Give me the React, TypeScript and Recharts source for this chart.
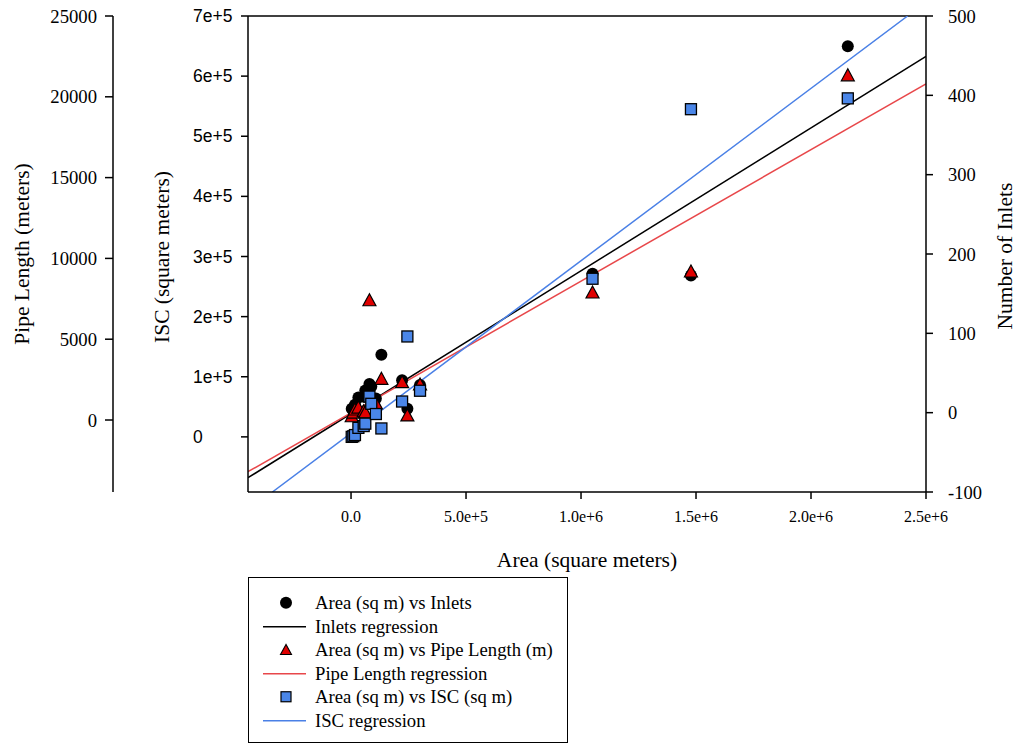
import React from 'react';
import { ComposedChart, XAxis, YAxis, Scatter, Line, ReferenceLine, Legend } from 'recharts';

// ---- data ----
const areaValues = [3000, 10000, 17000, 32000, 55000, 62000, 80000, 88000, 108000, 132000, 222000, 245000, 300000, 1050000, 1478000, 2160000];
const inletValues = [5, 3, 10, 19, 20, 28, 36, 33, 18, 73, 41, 5, 35, 175, 173, 462];
const pipeValues = [200, 430, 620, 740, 510, 450, 7380, 1440, 1000, 2520, 2310, 250, 2170, 7860, 9160, 21300];
const iscValues = [0, 1000, 3000, 15000, 18000, 22000, 67000, 55000, 38000, 14000, 58800, 167000, 76700, 263000, 545000, 563000];

// regression line end points (area, value)
const inletsRegX = [-448000, 2500000];
const inletsRegY = [-82, 449];
const pipeRegX = [-448000, 2500000];
const pipeRegY = [-3200, 20800];
const iscRegX = [-342000, 2420000];
const iscRegY = [-91700, 700000];

const xTicks = [0, 500000, 1000000, 1500000, 2000000, 2500000];
const iscTicks = [0, 100000, 200000, 300000, 400000, 500000, 600000, 700000];
const pipeTicks = [0, 5000, 10000, 15000, 20000, 25000];
const inletTicks = [-100, 0, 100, 200, 300, 400, 500];

const xDomain = [-448000, 2500000];
const iscDomain = [-91700, 700000];
const pipeDomain = [-4455, 25000];
const inletDomain = [-100, 500];

const inletsData = areaValues.map((x, i) => ({ x, y: inletValues[i] }));
const pipeData = areaValues.map((x, i) => ({ x, y: pipeValues[i] }));
const iscData = areaValues.map((x, i) => ({ x, y: iscValues[i] }));
const inletsReg = inletsRegX.map((x, i) => ({ x, y: inletsRegY[i] }));
const pipeReg = pipeRegX.map((x, i) => ({ x, y: pipeRegY[i] }));
const iscReg = iscRegX.map((x, i) => ({ x, y: iscRegY[i] }));

const SERIF = '"Liberation Serif", "Times New Roman", serif';
const SANS = '"Liberation Sans", Arial, sans-serif';
const RED = '#e00000';
const RED_LINE = '#e8474a';
const BLUE = '#4a86e8';
const BLUE_LINE = '#4a80e6';
const TITLE_SIZE = 21.5;

const fmtX = (v: number) => {
  if (v === 0) return '0.0';
  const e = Math.floor(Math.log10(v));
  return `${(v / Math.pow(10, e)).toFixed(1)}e+${e}`;
};
const fmtIsc = (v: number) => (v === 0 ? '0' : `${v / 100000}e+5`);

const Circle = (p: any) => <circle cx={p.cx} cy={p.cy} r={6} fill="#000" />;
const Tri = (p: any) => (
  <polygon
    points={`${p.cx},${p.cy - 7} ${p.cx - 6.5},${p.cy + 5} ${p.cx + 6.5},${p.cy + 5}`}
    fill={RED}
    stroke="#000"
    strokeWidth={1.2}
  />
);
const Sq = (p: any) => (
  <rect x={p.cx - 5.5} y={p.cy - 5.5} width={11} height={11} fill={BLUE} stroke="#000" strokeWidth={1.3} />
);

const IscTick = (p: any) => (
  <text x={p.x} y={p.y} dy="0.35em" textAnchor="start" fontFamily={SANS} fontSize={17.5} fill="#000">
    {fmtIsc(p.payload.value)}
  </text>
);

const legendRows = [
  { kind: 'circle', label: 'Area (sq m) vs Inlets' },
  { kind: 'line', color: '#000', label: 'Inlets regression' },
  { kind: 'tri', label: 'Area (sq m) vs Pipe Length (m)' },
  { kind: 'line', color: RED_LINE, label: 'Pipe Length regression' },
  { kind: 'sq', label: 'Area (sq m) vs ISC (sq m)' },
  { kind: 'line', color: BLUE_LINE, label: 'ISC regression' },
];

const LegendBox = () => (
  <div
    style={{
      width: 320,
      height: 166,
      boxSizing: 'border-box',
      border: '1.5px solid #000',
      paddingTop: 13,
      fontFamily: SERIF,
      fontSize: 18.7,
      color: '#000',
      background: '#fff',
    }}
  >
    {legendRows.map((r, i) => (
      <div key={i} style={{ height: 23.5, display: 'flex', alignItems: 'center' }}>
        <svg width={66} height={23.5} style={{ flex: 'none' }}>
          {r.kind === 'circle' && <circle cx={37} cy={11.75} r={6} fill="#000" />}
          {r.kind === 'line' && <line x1={14} x2={57} y1={11.75} y2={11.75} stroke={r.color} strokeWidth={1.5} />}
          {r.kind === 'tri' && (
            <polygon points="37,6.5 31.5,16.5 42.5,16.5" fill={RED} stroke="#000" strokeWidth={1.1} />
          )}
          {r.kind === 'sq' && (
            <rect x={32} y={6.75} width={10} height={10} fill={BLUE} stroke="#000" strokeWidth={1.2} />
          )}
        </svg>
        <span style={{ whiteSpace: 'nowrap', lineHeight: '23.5px' }}>{r.label}</span>
      </div>
    ))}
  </div>
);

const axisTitle = (text: string, dx: number, cy: number) => (props: any) => {
  const vb = props.viewBox;
  const x = vb.x + dx;
  return (
    <text
      x={x}
      y={cy}
      transform={`rotate(-90, ${x}, ${cy})`}
      textAnchor="middle"
      dominantBaseline="central"
      fontFamily={SERIF}
      fontSize={TITLE_SIZE}
      fill="#000"
    >
      {text}
    </text>
  );
};

export default function App() {
  return (
    <div style={{ position: 'absolute', left: 0, top: 0, width: 1019, height: 745, background: '#fff' }}>
      <ComposedChart width={1019} height={745} margin={{ top: 16, right: 0, bottom: 163, left: 0 }}>
        <XAxis
          type="number"
          dataKey="x"
          domain={xDomain}
          ticks={xTicks}
          allowDataOverflow
          tickFormatter={fmtX}
          height={90}
          stroke="#000"
          strokeWidth={1.5}
          tickSize={7}
          tickMargin={12}
          tick={{ fill: '#000', fontSize: 16, fontFamily: SERIF }}
          label={{
            content: (props: any) => {
              const vb = props.viewBox;
              return (
                <text
                  x={vb.x + vb.width / 2}
                  y={vb.y + 68}
                  textAnchor="middle"
                  dominantBaseline="central"
                  fontFamily={SERIF}
                  fontSize={TITLE_SIZE}
                  fill="#000"
                >
                  Area (square meters)
                </text>
              );
            },
          }}
        />
        <YAxis
          yAxisId="isc"
          orientation="left"
          type="number"
          domain={iscDomain}
          ticks={iscTicks}
          allowDataOverflow
          width={135}
          stroke="#000"
          strokeWidth={1.5}
          tickSize={7}
          tickMargin={48}
          tick={IscTick}
          label={{ content: axisTitle('ISC (square meters)', 49, 257) }}
        />
        <YAxis
          yAxisId="pipe"
          orientation="left"
          type="number"
          domain={pipeDomain}
          ticks={pipeTicks}
          allowDataOverflow
          width={113}
          stroke="#000"
          strokeWidth={1.5}
          tickSize={8}
          tickMargin={8}
          tick={{ fill: '#000', fontSize: 18.7, fontFamily: SERIF }}
          label={{ content: axisTitle('Pipe Length (meters)', 22, 254) }}
        />
        <YAxis
          yAxisId="inlets"
          orientation="right"
          type="number"
          domain={inletDomain}
          ticks={inletTicks}
          allowDataOverflow
          width={93}
          stroke="#000"
          strokeWidth={1.5}
          tickSize={7}
          tickMargin={15}
          tick={{ fill: '#000', fontSize: 18.5, fontFamily: SERIF }}
          label={{ content: axisTitle('Number of Inlets', 79, 256) }}
        />
        <ReferenceLine yAxisId="isc" y={700000} stroke="#000" strokeWidth={1.5} />

        <Scatter yAxisId="inlets" data={inletsData} dataKey="y" shape={Circle} isAnimationActive={false} />
        <Line
          yAxisId="inlets"
          data={inletsReg}
          dataKey="y"
          stroke="#000"
          strokeWidth={1.5}
          dot={false}
          activeDot={false}
          isAnimationActive={false}
        />
        <Scatter yAxisId="pipe" data={pipeData} dataKey="y" shape={Tri} isAnimationActive={false} />
        <Line
          yAxisId="pipe"
          data={pipeReg}
          dataKey="y"
          stroke={RED_LINE}
          strokeWidth={1.5}
          dot={false}
          activeDot={false}
          isAnimationActive={false}
        />
        <Scatter yAxisId="isc" data={iscData} dataKey="y" shape={Sq} isAnimationActive={false} />
        <Line
          yAxisId="isc"
          data={iscReg}
          dataKey="y"
          stroke={BLUE_LINE}
          strokeWidth={1.5}
          dot={false}
          activeDot={false}
          isAnimationActive={false}
        />
        <Legend
          layout="vertical"
          align="center"
          verticalAlign="middle"
          content={() => <LegendBox />}
          wrapperStyle={{ left: 248, top: 577, width: 320, height: 166 }}
        />
      </ComposedChart>
    </div>
  );
}
